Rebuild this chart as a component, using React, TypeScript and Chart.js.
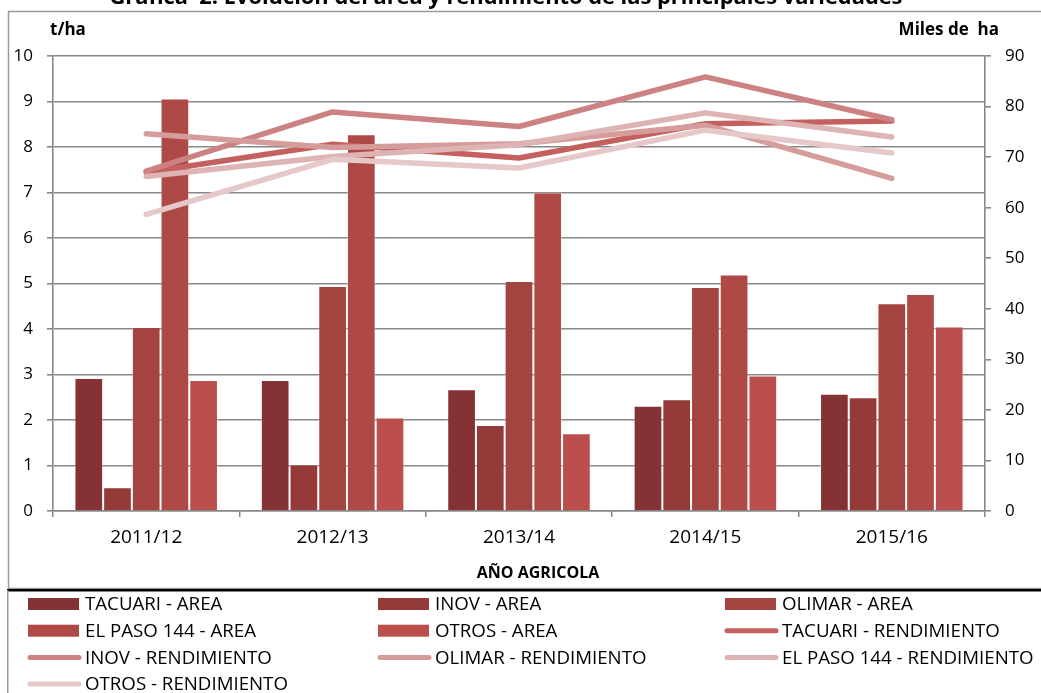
import React, { useEffect, useRef } from 'react';
import { Chart, registerables } from 'chart.js';

Chart.register(...registerables);

const categories = ['2011/12', '2012/13', '2013/14', '2014/15', '2015/16'];

// Área (miles de ha) - eje derecho
const tacuariArea = [26.3, 25.9, 24.1, 20.8, 23.2];
const inovArea = [4.7, 9.2, 17.0, 22.1, 22.5];
const olimarArea = [36.4, 44.5, 45.5, 44.3, 41.1];
const elPasoArea = [81.6, 74.5, 63.0, 46.8, 42.9];
const otrosArea = [25.9, 18.5, 15.4, 26.8, 36.5];

// Rendimiento (t/ha) - eje izquierdo
const tacuariRend = [7.44, 8.06, 7.76, 8.51, 8.57];
const inovRend = [7.47, 8.77, 8.45, 9.54, 8.6];
const olimarRend = [8.29, 7.99, 8.07, 8.48, 7.31];
const elPasoRend = [7.35, 7.79, 8.05, 8.75, 8.22];
const otrosRend = [6.52, 7.73, 7.54, 8.37, 7.87];

const leftMax = 10;
const leftStep = 1;
const rightMax = 90;
const rightStep = 10;

const titleText = 'Grafica  2. Evolución del área y rendimiento de las principales variedades';
const leftAxisTitle = 't/ha';
const rightAxisTitle = 'Miles de  ha';
const xAxisTitle = 'AÑO AGRICOLA';

const FONT = "'Open Sans', 'DejaVu Sans', sans-serif";
const GRID = '#888888';

const barColors = ['#853234', '#943a39', '#a34441', '#ae4945', '#bb4f4c'];
const lineColors = ['#c4605d', '#cc8282', '#d59c9b', '#ddb3b3', '#e6c8c8'];

const decorPlugin = {
  id: 'decor',
  beforeDraw(chart: any) {
    const ctx = chart.ctx;
    ctx.save();
    ctx.fillStyle = '#ffffff';
    ctx.fillRect(0, 0, chart.width, chart.height);
    ctx.strokeStyle = '#9a9a9a';
    ctx.lineWidth = 1.5;
    ctx.strokeRect(8.5, 11.5, chart.width + 20, 577);
    ctx.restore();
  },
  afterDraw(chart: any) {
    const ctx = chart.ctx;
    const area = chart.chartArea;
    ctx.save();
    ctx.fillStyle = '#000';
    ctx.textAlign = 'center';
    ctx.textBaseline = 'alphabetic';
    ctx.font = `bold 19px ${FONT}`;
    const w = ctx.measureText(titleText).width;
    const size = 19 * 793 / w;
    ctx.font = `bold ${size.toFixed(2)}px ${FONT}`;
    ctx.fillText(titleText, 506, 4);

    ctx.font = `bold 17px ${FONT}`;
    ctx.textAlign = 'left';
    ctx.fillText(leftAxisTitle, area.left - 3, 35);
    ctx.textAlign = 'right';
    ctx.fillText(rightAxisTitle, 999, 35);
    ctx.textAlign = 'center';
    ctx.font = `bold 16px ${FONT}`;
    ctx.textBaseline = 'middle';
    ctx.fillText(xAxisTitle, 538, 573);

    ctx.fillStyle = '#000';
    ctx.fillRect(7, 589, chart.width, 2.5);
    ctx.fillStyle = '#9a9a9a';
    ctx.fillRect(7, 590, 1.5, chart.height - 590);

    const colX = [28, 378, 725];
    const rowY0 = 604;
    const rowH = 26.7;
    ctx.font = `18.7px ${FONT}`;
    ctx.textAlign = 'left';
    ctx.textBaseline = 'middle';
    chart.data.datasets.forEach((ds: any, i: number) => {
      const row = Math.floor(i / 3);
      const col = i % 3;
      const x = colX[col];
      const y = rowY0 + row * rowH;
      if (ds.type === 'bar') {
        ctx.fillStyle = ds.backgroundColor;
        ctx.fillRect(x, y - 6, 51, 12);
      } else {
        ctx.strokeStyle = ds.borderColor;
        ctx.lineWidth = 5;
        ctx.lineCap = 'round';
        ctx.beginPath();
        ctx.moveTo(x + 2, y);
        ctx.lineTo(x + 51, y);
        ctx.stroke();
      }
      ctx.fillStyle = '#000';
      ctx.fillText(ds.label, x + 57, y + 1);
    });
    ctx.restore();
  },
};

export default function App() {
  const ref = useRef<HTMLCanvasElement | null>(null);

  useEffect(() => {
    document.body.style.margin = '0';
    const canvas = ref.current;
    if (!canvas) return;

    const barSets = [
      ['TACUARI - AREA', tacuariArea],
      ['INOV - AREA', inovArea],
      ['OLIMAR - AREA', olimarArea],
      ['EL PASO 144 - AREA', elPasoArea],
      ['OTROS - AREA', otrosArea],
    ].map(([label, data], i) => ({
      type: 'bar' as const,
      label: label as string,
      data: data as number[],
      backgroundColor: barColors[i],
      borderColor: 'rgba(255,255,255,0.35)',
      borderWidth: 1,
      yAxisID: 'y1',
      order: 10,
      barPercentage: 1.0,
      categoryPercentage: 0.77,
    }));

    const lineSets = [
      ['TACUARI - RENDIMIENTO', tacuariRend],
      ['INOV - RENDIMIENTO', inovRend],
      ['OLIMAR - RENDIMIENTO', olimarRend],
      ['EL PASO 144 - RENDIMIENTO', elPasoRend],
      ['OTROS - RENDIMIENTO', otrosRend],
    ].map(([label, data], i) => ({
      type: 'line' as const,
      label: label as string,
      data: data as number[],
      borderColor: lineColors[i],
      backgroundColor: lineColors[i],
      borderWidth: 5.5,
      borderCapStyle: 'round' as const,
      borderJoinStyle: 'round' as const,
      pointRadius: 0,
      tension: 0,
      fill: false,
      yAxisID: 'y',
      order: 4 - i,
    }));

    const chart = new Chart(canvas, {
      type: 'bar',
      data: {
        labels: categories,
        datasets: [...barSets, ...lineSets] as any,
      },
      options: {
        responsive: false,
        animation: false,
        layout: { padding: { top: 56, left: 0, right: 0, bottom: 0 } },
        font: { family: FONT },
        plugins: {
          legend: { display: false },
          title: { display: false },
          tooltip: { enabled: false },
        },
        scales: {
          x: {
            offset: true,
            grid: {
              display: true,
              drawOnChartArea: false,
              drawTicks: true,
              tickLength: 6,
              offset: true,
              color: GRID,
              lineWidth: 1.5,
            },
            border: { display: true, color: GRID, width: 1.5 },
            ticks: { font: { family: FONT, size: 19 }, color: '#000', padding: 9 },
            afterFit: (s: any) => {
              s.height = 182;
            },
          },
          y: {
            position: 'left',
            min: 0,
            max: leftMax,
            ticks: { stepSize: leftStep, font: { family: FONT, size: 17 }, color: '#000', padding: 14 },
            grid: { color: GRID, lineWidth: 1.6, tickLength: 6, drawTicks: true },
            border: { display: true, color: GRID, width: 1.6 },
            afterFit: (s: any) => {
              s.width = 53;
            },
          },
          y1: {
            position: 'right',
            min: 0,
            max: rightMax,
            ticks: { stepSize: rightStep, font: { family: FONT, size: 17 }, color: '#000', padding: 14 },
            grid: { drawOnChartArea: false, color: GRID, lineWidth: 1.6, tickLength: 6, drawTicks: true },
            border: { display: true, color: GRID, width: 1.6 },
            afterFit: (s: any) => {
              s.width = 56;
            },
          },
        },
      } as any,
      plugins: [decorPlugin],
    });

    return () => {
      chart.destroy();
    };
  }, []);

  return (
    <div style={{ width: 1041, height: 693, position: 'relative', overflow: 'hidden' }}>
      <canvas ref={ref} width={1041} height={693} style={{ display: 'block', width: 1041, height: 693 }} />
    </div>
  );
}
